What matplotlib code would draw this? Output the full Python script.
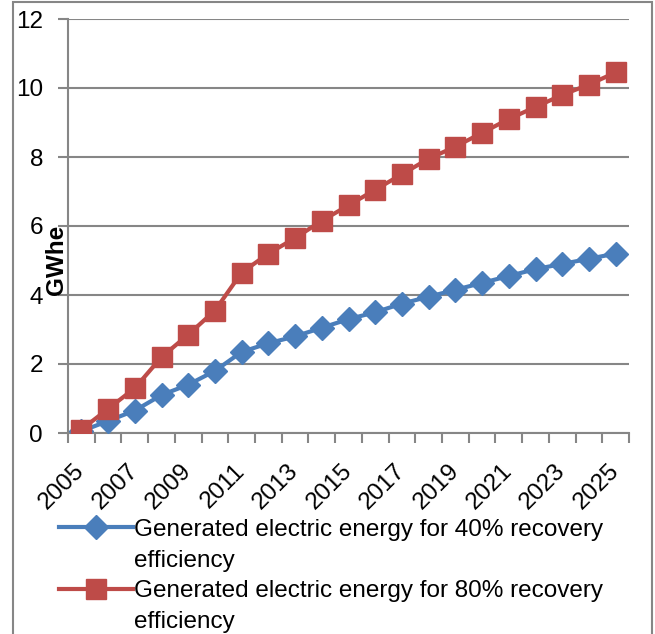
import numpy as np
import matplotlib
matplotlib.use("Agg")
import matplotlib.pyplot as plt
from matplotlib.lines import Line2D
from matplotlib.patches import Rectangle

plt.rcParams['font.family'] = ['Liberation Sans', 'DejaVu Sans']

# data
years = list(range(2005, 2026))
gen_40 = [0.05, 0.35, 0.65, 1.1, 1.4, 1.8, 2.35, 2.6, 2.8, 3.05, 3.3,
          3.5, 3.75, 3.95, 4.15, 4.35, 4.55, 4.75, 4.9, 5.05, 5.2]
gen_80 = [0.1, 0.7, 1.3, 2.2, 2.85, 3.55, 4.65, 5.2, 5.65, 6.15, 6.6,
          7.05, 7.5, 7.95, 8.3, 8.7, 9.1, 9.45, 9.8, 10.1, 10.45]
label_40 = "Generated electric energy for 40% recovery"
label_80 = "Generated electric energy for 80% recovery"
label_cont = "efficiency"

blue = '#4A7EBB'
red = '#BE4B48'
gray = '#868686'
fs = 17.5

fig = plt.figure(figsize=(6.55, 6.34), dpi=100)
ax = fig.add_axes([68 / 655, 1 - 433 / 634, (629 - 68) / 655, (433 - 19) / 634])

ax.plot(years, gen_40, color=blue, lw=3, marker='D', markersize=12, zorder=3)
ax.plot(years, gen_80, color=red, lw=3, marker='s', markersize=14, zorder=3)

ax.set_xlim(2004.5, 2025.5)
ax.set_ylim(0, 12)
ax.set_yticks(np.arange(0, 13, 2))
ax.grid(axis='y', color=gray, lw=1.5)
ax.set_axisbelow(True)

# labels centred on categories, tick marks on category boundaries
ax.set_xticks(years[::2], [str(y) for y in years[::2]], rotation=45,
              ha='right', va='center', rotation_mode='anchor')
ax.set_xticks(np.arange(2004.5, 2026, 1), minor=True)
ax.tick_params(axis='x', which='major', length=0, pad=25, labelsize=fs)
ax.tick_params(axis='x', which='minor', length=7, width=1.5, color=gray)
ax.tick_params(axis='y', length=7, width=1.5, color=gray, pad=11, labelsize=fs)

for s in ['top', 'right']:
    ax.spines[s].set_visible(False)
for s in ['left', 'bottom']:
    ax.spines[s].set_color(gray)
    ax.spines[s].set_linewidth(1.5)

ax.set_ylabel("GWhe", fontsize=fs, fontweight='bold', va='center')
ax.yaxis.set_label_coords(-0.021, 0.418)

handles = [Line2D([], [], color=blue, lw=3, marker='D', markersize=12),
           Line2D([], [], color='none'),
           Line2D([], [], color=red, lw=3, marker='s', markersize=14),
           Line2D([], [], color='none')]
labels = [label_40, label_cont, label_80, label_cont]
fig.legend(handles, labels, loc='upper left', bbox_to_anchor=(49 / 655, 1 - 509 / 634),
           frameon=False, fontsize=fs, handlelength=3.05, handletextpad=0.05,
           labelspacing=0.36, borderaxespad=0)

fig.add_artist(Rectangle((13 / 655, -0.05), (652 - 13) / 655, 1.05 - 2 / 634,
                         transform=fig.transFigure, fill=False, edgecolor=gray, lw=1.5))

fig.savefig('out.png', dpi=100)
